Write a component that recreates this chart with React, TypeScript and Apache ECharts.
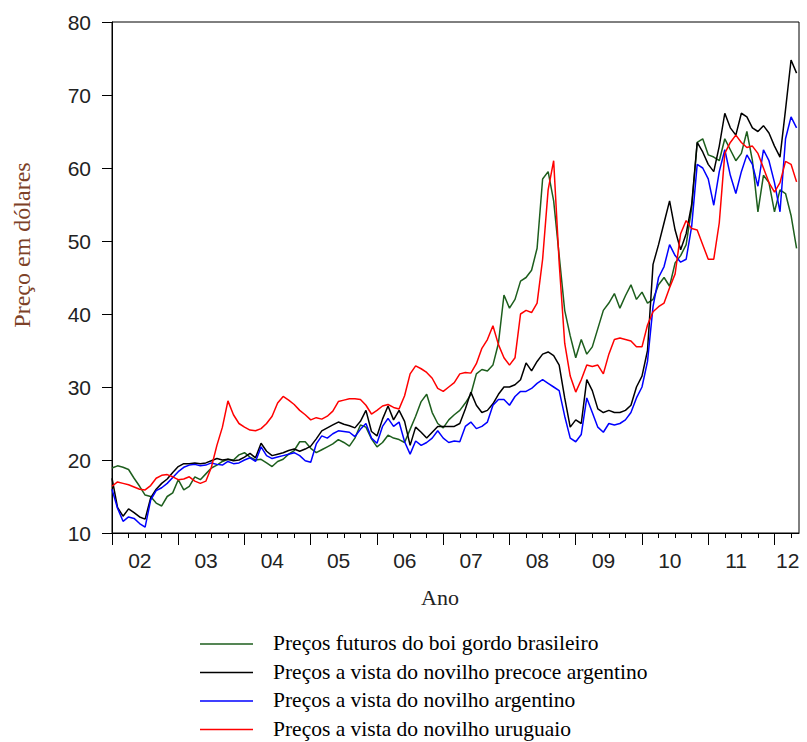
import React, { useEffect, useRef } from "react";
import * as echarts from "echarts";

// Monthly observations, Jan 2002 .. May 2012 (USD)
const startYear = 2002;
const seriesNames = [
  "Preços futuros do boi gordo brasileiro",
  "Preços a vista do novilho precoce argentino",
  "Preços a vista do novilho argentino",
  "Preços a vista do novilho uruguaio",
];
const colors = ["#1d5e1d", "#000000", "#0000ff", "#ff0000"];

const boiGordoBR = [
  18.9, 19.2, 19.0, 18.7, 17.5, 16.4, 15.2, 15.0, 14.1, 13.7, 15.0, 15.5,
  17.3, 15.9, 16.4, 17.7, 17.3, 18.1, 18.9, 19.3, 19.8, 20.1, 20.0, 20.7,
  21.0, 20.4, 20.0, 20.1, 19.6, 19.1, 19.8, 20.1, 20.8, 21.3, 22.5, 22.5,
  21.6, 21.0, 21.4, 21.8, 22.2, 22.8, 22.4, 21.9, 23.0, 24.8, 24.5, 22.9,
  21.8, 22.4, 23.4, 23.0, 22.8, 22.4, 24.2, 26.0, 28.0, 29.0, 26.5, 25.0,
  24.4, 25.5, 26.2, 26.8, 27.8, 29.0, 31.8, 32.4, 32.2, 33.0, 36.0, 42.6,
  40.8, 42.0, 44.5, 45.0, 46.0, 49.0, 58.5, 59.5, 55.5, 48.0, 40.5, 37.0,
  34.0, 36.5, 34.5, 35.5, 38.0, 40.5, 41.5, 42.8, 40.8, 42.5, 44.0, 42.0,
  43.0, 41.5, 42.0, 44.0, 45.0, 43.8, 47.0, 48.0, 49.5, 54.5, 63.5, 64.0,
  61.8, 61.5, 61.0, 64.0, 62.5, 61.0, 62.0, 65.0, 61.0, 54.0, 59.0, 58.0,
  54.0, 57.0, 56.5, 53.5, 49.0,
];
const novilhoPrecoceAR = [
  17.5, 13.5, 12.3, 13.3, 12.8, 12.2, 11.9, 14.8, 16.0, 16.8, 17.4, 18.3,
  19.1, 19.5, 19.5, 19.6, 19.5, 19.6, 19.9, 20.2, 20.0, 20.1, 19.9, 20.0,
  20.4, 20.9, 20.3, 22.3, 21.2, 20.6, 20.8, 21.0, 21.3, 21.5, 21.2, 21.5,
  21.9, 22.9, 24.0, 24.4, 24.8, 25.2, 24.9, 24.7, 24.4, 25.3, 26.8, 23.9,
  23.3, 25.6, 27.4, 25.5, 26.8, 25.3, 22.0, 24.5, 23.8, 23.0, 23.8, 24.6,
  24.6, 24.6, 24.6, 25.0, 27.0, 29.3, 27.5, 26.5, 26.8, 27.7, 29.0, 30.0,
  30.0, 30.3, 31.0, 33.3, 32.2, 33.5, 34.5, 34.8, 34.3, 33.0, 28.5, 24.5,
  25.5, 25.0, 31.0, 29.5, 27.0, 26.5, 26.8, 26.5, 26.5, 26.8, 27.5, 30.0,
  31.5, 35.0, 46.8, 49.5, 52.5, 55.5, 51.5, 48.8, 51.0, 55.0, 63.5, 62.2,
  60.5, 59.5, 63.0, 67.5, 65.5, 64.5, 67.5, 67.0, 65.5, 65.0, 65.8, 64.8,
  63.0, 61.5, 68.0, 74.8, 73.0,
];
const novilhoAR = [
  16.0, 13.4, 11.6, 12.2, 12.0, 11.3, 10.8, 14.5, 15.8, 16.2, 16.8, 17.6,
  18.4, 19.0, 19.3, 19.4, 19.2, 19.3, 19.6, 19.4, 19.3, 19.8, 19.5, 19.6,
  20.0, 20.3, 19.8, 21.8, 20.6, 20.2, 20.4, 20.6, 20.8, 21.0, 20.6, 19.9,
  19.7, 22.2, 23.3, 23.0, 23.6, 24.0, 23.9, 23.8, 23.2, 24.2, 25.0, 23.0,
  22.3, 24.6, 25.7, 24.6, 25.2, 22.5, 20.8, 22.6, 22.0, 22.4, 23.0, 24.0,
  23.0, 22.4, 22.6, 22.5, 24.6, 25.2, 24.3, 24.6, 25.2, 27.5, 28.3, 28.3,
  27.5, 28.7, 29.4, 29.4, 29.8, 30.5, 31.0, 30.5, 30.0, 29.5, 26.0, 23.0,
  22.5, 23.5, 28.5, 26.5, 24.5, 23.8, 25.0, 24.8, 25.0, 25.5, 26.5, 28.5,
  30.0, 33.5, 41.0, 45.0, 46.5, 49.5, 48.0, 47.1, 47.5, 52.0, 60.5, 60.0,
  58.5, 54.9, 59.5, 62.5, 59.0, 56.5, 59.5, 61.8, 60.5, 57.5, 62.5, 61.0,
  58.0, 54.0, 64.0, 67.0, 65.5,
];
const novilhoUY = [
  16.4, 17.0, 16.8, 16.6, 16.3, 16.0, 15.9, 16.5, 17.5, 17.9, 18.0, 17.7,
  17.3, 17.4, 17.7, 17.1, 16.8, 17.1, 19.0, 22.0, 24.5, 28.1, 26.2, 25.0,
  24.5, 24.1, 24.0, 24.3, 25.0, 26.0, 27.8, 28.7, 28.2, 27.6, 26.8, 26.2,
  25.5, 25.8, 25.6, 26.0, 26.7, 28.0, 28.2, 28.4, 28.4, 28.3, 27.5, 26.3,
  26.8, 27.4, 27.6, 27.2, 27.0, 28.8, 31.8, 32.9, 32.5, 32.0, 31.2, 29.8,
  29.4, 30.0, 30.6, 31.8, 32.0, 31.9, 33.2, 35.3, 36.5, 38.4, 35.8, 34.0,
  33.0, 34.0, 40.0, 40.5, 40.2, 41.5, 47.5, 57.0, 61.0, 47.0, 36.0, 31.5,
  29.3, 31.0, 33.0, 32.8, 33.0, 31.8, 34.5, 36.5, 36.7, 36.5, 36.3, 35.5,
  35.5, 38.5, 40.3, 41.0, 41.5, 43.6, 45.5, 51.0, 52.8, 51.7, 51.5, 49.5,
  47.5, 47.5, 52.5, 62.0, 63.5, 64.5, 63.5, 62.8, 63.0, 62.0, 60.0, 58.0,
  56.7, 58.0, 60.9, 60.5, 58.1,
];

const yearTicks = [2002, 2003, 2004, 2005, 2006, 2007, 2008, 2009, 2010, 2011, 2012];
const yearLabels = ["02", "03", "04", "05", "06", "07", "08", "09", "10", "11", "12"];

const monthX = boiGordoBR.map((_, i) => startYear + i / 12);
const quarterTicks: number[] = [];
for (let y = 2002; y <= 2012; y++) for (let q = 0; q < 4; q++) if (y + q / 4 < 2012.37) quarterTicks.push(y + q / 4);
const labelPos = yearTicks.map((y, i) => (i === yearTicks.length - 1 ? y + 0.2 : y + 0.42));

export default function App() {
  const ref = useRef<HTMLDivElement>(null);
  useEffect(() => {
    if (!ref.current) return;
    const chart = echarts.init(ref.current, null, { renderer: "svg" });
    const allSeries = [boiGordoBR, novilhoPrecoceAR, novilhoAR, novilhoUY];
    const sans = "'Liberation Sans', Arial, sans-serif";
    const serif = "'Liberation Serif', 'Times New Roman', serif";

    // legend drawn as graphic rows (line sample + text)
    const legendTop = 643;
    const legendPitch = 28.5;
    const legendGraphics: any[] = [];
    seriesNames.forEach((name, i) => {
      const y = legendTop + i * legendPitch;
      legendGraphics.push({
        type: "line",
        shape: { x1: 200, y1: y + 1, x2: 253, y2: y + 1 },
        style: { stroke: colors[i], lineWidth: 1.5 },
      });
      legendGraphics.push({
        type: "text",
        x: 273,
        y: y,
        style: {
          text: name,
          fontFamily: serif,
          fontSize: 21.5,
          fill: "#000",
          textAlign: "left",
          textVerticalAlign: "middle",
        },
      });
    });

    chart.setOption({
      animation: false,
      backgroundColor: "#ffffff",
      grid: {
        left: 112,
        top: 22,
        right: 8,
        bottom: 209,
        show: true,
        borderColor: "#000",
        borderWidth: 1,
      },
      xAxis: [
        {
          type: "value",
          min: 2002,
          max: 2012.37,
          interval: 1,
          axisLine: { show: true, lineStyle: { color: "#000", width: 1 } },
          axisTick: { show: true, length: 12, customValues: yearTicks, lineStyle: { color: "#000", width: 1 } },
          splitLine: { show: false },
          axisLabel: {
            customValues: labelPos,
            formatter: (v: number) => yearLabels[Math.floor(v + 1e-6) - 2002] ?? "",
            fontSize: 21,
            fontFamily: sans,
            color: "#222",
            margin: 17,
          },
        },
        {
          type: "value",
          min: 2002,
          max: 2012.37,
          interval: 0.25,
          position: "bottom",
          axisLine: { show: false },
          axisTick: { show: true, length: 5, customValues: quarterTicks, lineStyle: { color: "#000", width: 1 } },
          axisLabel: { show: false },
          splitLine: { show: false },
        },
      ],
      yAxis: {
        type: "value",
        min: 10,
        max: 80,
        interval: 10,
        axisLine: { show: true, lineStyle: { color: "#000", width: 1 } },
        axisTick: { show: true, length: 10, lineStyle: { color: "#000", width: 1 } },
        splitLine: { show: false },
        axisLabel: { fontSize: 21, fontFamily: sans, color: "#222", margin: 21 },
      },
      legend: { show: false, data: seriesNames },
      graphic: [
        {
          type: "text",
          x: 22,
          y: 245,
          rotation: Math.PI / 2,
          style: {
            text: "Preço em dólares",
            fontFamily: serif,
            fontSize: 24,
            fill: "#7d4127",
            textAlign: "center",
            textVerticalAlign: "middle",
          },
        },
        {
          type: "text",
          x: 440,
          y: 597,
          style: {
            text: "Ano",
            fontFamily: serif,
            fontSize: 22,
            fill: "#222",
            textAlign: "center",
            textVerticalAlign: "middle",
          },
        },
        ...legendGraphics,
      ],
      series: allSeries.map((vals, si) => ({
        name: seriesNames[si],
        type: "line",
        xAxisIndex: 0,
        showSymbol: false,
        symbol: "none",
        color: colors[si],
        lineStyle: { color: colors[si], width: 1.5 },
        data: vals.map((v, i) => [monthX[i], v]),
        z: 2 + si,
      })),
    });
    return () => chart.dispose();
  }, []);
  return <div ref={ref} style={{ position: "fixed", left: 0, top: 0, width: 807, height: 742 }} />;
}
